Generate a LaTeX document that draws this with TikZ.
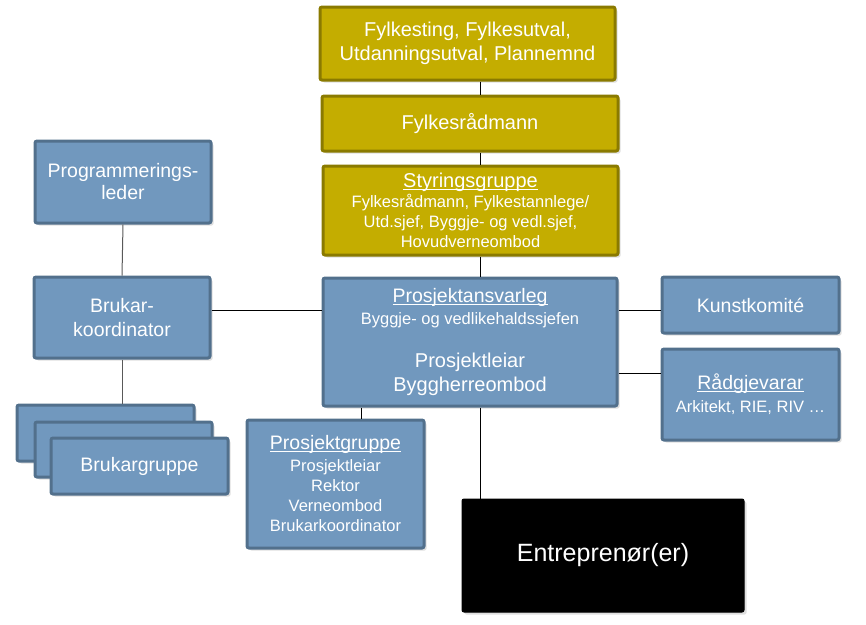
\documentclass[tikz,border=0pt]{standalone}
\usepackage{fontspec}
\setmainfont{Liberation Sans}
\usetikzlibrary{shadows}
\definecolor{bfill}{RGB}{113,152,190}
\definecolor{bdraw}{RGB}{82,112,140}
\definecolor{gfill}{RGB}{196,173,0}
\definecolor{gdraw}{RGB}{138,122,0}
\newcommand{\fsA}{\fontsize{20}{24}\selectfont}
\newcommand{\fsB}{\fontsize{19.5}{22}\selectfont}
\newcommand{\fsC}{\fontsize{16.5}{20}\selectfont}
\newlength{\myulw}
\newcommand{\myul}[1]{\settowidth{\myulw}{#1}\rlap{\rule[-2.5pt]{\myulw}{1pt}}#1}
\begin{document}
\begin{tikzpicture}[x=1pt,y=-1pt,
  box/.style={rounded corners=2pt, line width=3pt, text=white, align=center,
    inner sep=0pt, drop shadow={shadow xshift=2.5pt,shadow yshift=-2.5pt,opacity=0.25}},
  bluebox/.style={box, fill=bfill, draw=bdraw},
  goldbox/.style={box, fill=gfill, draw=gdraw},
  blackbox/.style={box, fill=black, draw=black, line width=1pt},
  conn/.style={line width=1pt, black},
  gconn/.style={line width=1pt, black!65},
]
\useasboundingbox (0,0) rectangle (866,624);

% gold boxes
\node[goldbox, font=\fsA, minimum width=295pt, minimum height=73pt] (top) at (467.5,43.5)
  {Fylkesting, Fylkesutval,\\ Utdanningsutval, Plannemnd};
\node[goldbox, font=\fsA, minimum width=296pt, minimum height=55pt] (fr) at (470,123.5)
  {Fylkesrådmann};
\node[goldbox, font=\fsC, minimum width=295pt, minimum height=89pt] (sg) at (470.5,210.5)
  {\fsA\myul{Styringsgruppe}\\
   \fsC Fylkesrådmann, Fylkestannlege/\\ \fsC Utd.sjef, Byggje- og vedl.sjef,\\ \fsC Hovudverneombod};

% central blue box
\node[bluebox, font=\fsA, minimum width=294pt, minimum height=128pt] (pa) at (470,342)
  {\fsB\myul{Prosjektansvarleg}\\[-2pt]
   \fsC Byggje- og vedlikehaldssjefen\\[19pt]
   \fsA Prosjektleiar\\ \fsA Byggherreombod};

% right boxes
\node[bluebox, font=\fsB, minimum width=177pt, minimum height=56pt] (kk) at (750.5,305)
  {Kunstkomité};
\node[bluebox, font=\fsB, minimum width=177pt, minimum height=91pt] (rg) at (750.5,394.5)
  {\myul{Rådgjevarar}\\[1pt] \fsC Arkitekt, RIE, RIV …};

% left column
\node[bluebox, font=\fsB, minimum width=176pt, minimum height=82pt] (pl) at (123,182)
  {Programmerings-\\ leder};
\node[bluebox, font=\fsB, minimum width=176pt, minimum height=81pt] (bk) at (122,317.5)
  {Brukar-\\[2pt] koordinator};
\node[bluebox, minimum width=177pt, minimum height=56pt] (bg1) at (105.5,433) {};
\node[bluebox, minimum width=177pt, minimum height=55pt] (bg2) at (123.5,449.5) {};
\node[bluebox, font=\fsB, minimum width=177pt, minimum height=56pt] (bg3) at (139.5,466)
  {Brukargruppe};

% lower boxes
\node[bluebox, font=\fsC, minimum width=177pt, minimum height=128pt] (pg) at (335.5,484)
  {\fsB\myul{Prosjektgruppe}\\[2pt]
   \fsC Prosjektleiar\\ \fsC Rektor\\ \fsC Verneombod\\ \fsC Brukarkoordinator};
\node[blackbox, font=\fontsize{25}{28}\selectfont, minimum width=282pt, minimum height=113pt] (en) at (603,555.5)
  {Entreprenør(er)};

% helper coordinates
\coordinate (spine) at (480,0);
\coordinate (pgx) at (361,0);
\coordinate (h1) at (0,310);
\coordinate (h2) at (0,373);

% connectors
\draw[conn] (top.south -| spine) -- (fr.north -| spine);
\draw[conn] (fr.south -| spine) -- (sg.north -| spine);
\draw[conn] (sg.south -| spine) -- (pa.north -| spine);
\draw[conn] (pa.south -| spine) -- (en.north -| spine);
\draw[conn] (pa.south -| pgx) -- (pg.north -| pgx);
\draw[conn] (bk.east |- h1) -- (pa.west |- h1);
\draw[conn] (pa.east |- h1) -- (kk.west |- h1);
\draw[conn] (pa.east |- h2) -- (rg.west |- h2);
\draw[gconn] (pl.south) -- (bk.north);
\draw[gconn] (bk.south) -- (bg1.north -| bk.south);
\end{tikzpicture}
\end{document}
